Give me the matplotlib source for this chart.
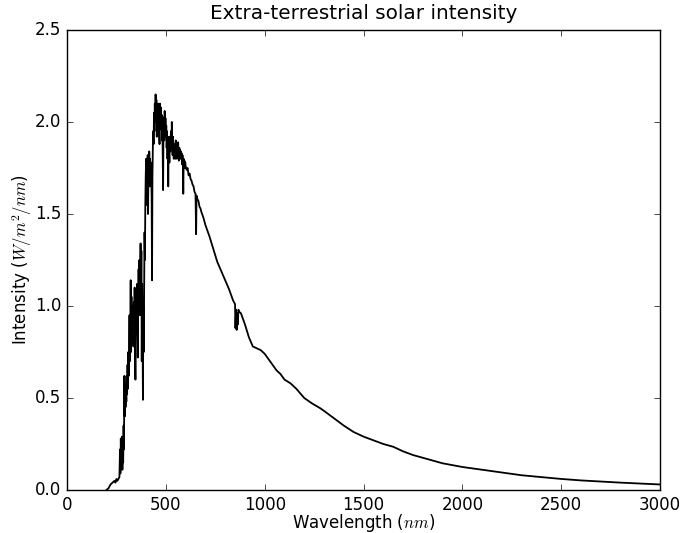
import matplotlib
matplotlib.use('Agg')
import matplotlib.pyplot as plt

plt.style.use('classic')
plt.rcParams['mathtext.fontset'] = 'cm'

# wavelength (nm) and spectral irradiance (W/m^2/nm)
uv_nm = [200, 210, 220, 230, 240, 245, 250, 255, 260, 265, 268, 270, 272, 275, 278,
         280, 282, 284, 286, 288, 290, 292, 294, 296, 298, 300, 302, 304, 306, 308,
         310, 312, 314, 316, 318, 320, 322, 324, 326, 328, 330, 332, 334, 336, 338,
         340, 342, 344, 346, 348, 350, 352, 354, 356, 358, 360, 362, 364, 366, 368,
         370, 372, 374, 376, 378, 380, 382, 384, 386, 388, 390, 392, 394, 396, 398]
uv_val = [0.0, 0.01, 0.03, 0.04, 0.05, 0.04, 0.06, 0.05, 0.06, 0.07, 0.22, 0.09, 0.28, 0.12, 0.29,
          0.11, 0.20, 0.15, 0.35, 0.22, 0.62, 0.40, 0.58, 0.45, 0.55, 0.48, 0.62, 0.52, 0.68, 0.55,
          0.75, 0.62, 0.80, 0.95, 0.70, 0.85, 1.14, 0.75, 1.05, 0.85, 1.00, 0.90, 0.98, 0.78, 1.02,
          0.88, 1.10, 0.80, 0.60, 0.95, 1.05, 0.85, 1.12, 0.92, 0.72, 1.00, 1.20, 0.95, 1.25, 1.00,
          1.10, 1.34, 0.95, 1.30, 0.70, 1.12, 0.85, 0.49, 1.00, 0.75, 1.12, 1.40, 1.25, 1.55, 1.70]

vis_nm = [400, 402, 404, 406, 408, 410, 412, 414, 416, 418, 420, 422, 424, 426, 428,
          430, 432, 434, 436, 438, 440, 442, 444, 446, 448, 450, 452, 454, 456, 458,
          460, 462, 464, 466, 468, 470, 472, 474, 476, 478, 480, 482, 484, 486, 488,
          490, 492, 494, 496, 498, 500, 502, 504, 506, 508, 510, 512, 514, 516, 518,
          520, 522, 524, 526, 528, 530, 532, 534, 536, 538, 540, 542, 544, 546, 548,
          550, 552, 554, 556, 558, 560, 562, 564, 566, 568, 570, 572, 574, 576, 578,
          580, 582, 584, 586, 588, 590, 592, 594, 596, 598,
          600, 605, 610, 615, 620, 625, 630, 635, 640, 645, 650, 653, 655, 660, 665,
          670, 675, 680, 690]
vis_val = [1.80, 1.55, 1.75, 1.62, 1.82, 1.50, 1.78, 1.70, 1.84, 1.65, 1.80, 1.72, 1.78, 1.68, 1.60,
           1.14, 1.70, 1.85, 1.95, 1.88, 2.05, 1.95, 2.10, 2.00, 2.15, 2.05, 2.12, 1.92, 2.08, 2.00,
           2.10, 1.98, 2.07, 1.94, 1.88, 2.10, 2.00, 2.08, 1.96, 2.04, 1.90, 2.03, 1.85, 1.63, 1.98,
           2.02, 1.90, 2.06, 1.95, 2.02, 1.92, 1.98, 1.86, 1.95, 1.80, 1.92, 1.65, 1.90, 1.84, 1.78,
           1.92, 1.84, 1.90, 1.95, 1.86, 2.00, 1.88, 1.82, 1.92, 1.85, 1.80, 1.88, 1.83, 1.86, 1.80,
           1.90, 1.82, 1.87, 1.80, 1.85, 1.82, 1.89, 1.84, 1.79, 1.86, 1.82, 1.85, 1.80, 1.84, 1.81,
           1.83, 1.77, 1.82, 1.79, 1.61, 1.80, 1.77, 1.79, 1.75, 1.78,
           1.76, 1.74, 1.75, 1.71, 1.72, 1.69, 1.68, 1.66, 1.65, 1.62, 1.61, 1.39, 1.60, 1.58, 1.57,
           1.54, 1.53, 1.51, 1.48]

ir_nm = [700, 720, 740, 760, 780, 800, 820, 840, 850, 852, 855, 858, 861, 864, 867,
         870, 880, 900, 920, 940, 960, 980, 1000, 1020, 1040, 1060, 1080, 1100, 1130, 1160,
         1200, 1240, 1280, 1300, 1350, 1400, 1450, 1500, 1550, 1600, 1650, 1700, 1750, 1800, 1850,
         1900, 1950, 2000, 2100, 2200, 2300, 2400, 2500, 2600, 2700, 2800, 2900, 3000]
ir_val = [1.44, 1.38, 1.31, 1.24, 1.19, 1.14, 1.09, 1.03, 1.01, 0.88, 0.98, 0.87, 0.96, 0.90, 0.98,
          0.97, 0.96, 0.90, 0.83, 0.78, 0.77, 0.76, 0.74, 0.71, 0.68, 0.65, 0.63, 0.60, 0.58, 0.55,
          0.50, 0.47, 0.445, 0.43, 0.39, 0.35, 0.315, 0.29, 0.27, 0.25, 0.235, 0.21, 0.19, 0.175, 0.16,
          0.145, 0.135, 0.125, 0.11, 0.095, 0.08, 0.07, 0.06, 0.052, 0.046, 0.04, 0.035, 0.03]

wavelength = uv_nm + vis_nm + ir_nm
intensity = uv_val + vis_val + ir_val

fig = plt.figure(figsize=(6.84, 5.33), dpi=100, facecolor='white')
ax = fig.add_axes([0.098, 0.0807, 0.867, 0.863])
ax.plot(wavelength, intensity, color='black', lw=1.3)

ax.set_xlim(0, 3000)
ax.set_ylim(0, 2.5)
ax.set_xticks([0, 500, 1000, 1500, 2000, 2500, 3000])
ax.set_yticks([0.0, 0.5, 1.0, 1.5, 2.0, 2.5])
ax.set_xlabel(r'Wavelength ($nm$)', labelpad=-1)
ax.set_ylabel(r'Intensity ($W/m^2/nm$)', labelpad=1)
ax.set_title('Extra-terrestrial solar intensity', pad=8)

fig.savefig('out.png', dpi=100, facecolor='white')
